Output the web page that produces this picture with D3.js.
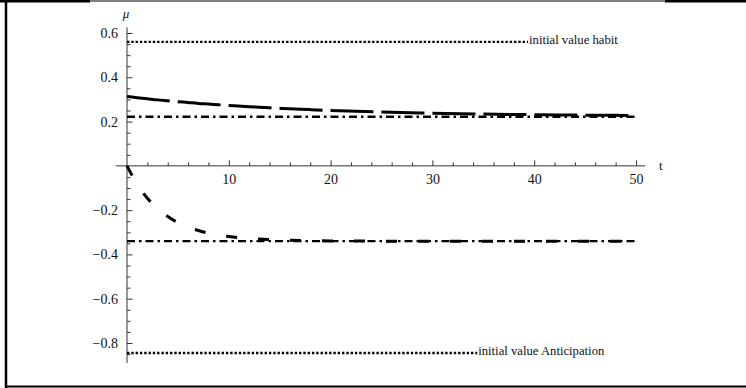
<!DOCTYPE html>
<html lang="en">
<head>
  <meta charset="UTF-8">
  <title>mu over t</title>
  <style>
    body { margin: 0; background: #fff; }
    text { font-family: "Liberation Serif", "DejaVu Serif", serif; fill: #111; }
  </style>
</head>
<body>
  <svg id="chart" width="746" height="388"></svg>

  <script src="https://d3js.org/d3.v7.min.js"></script>
  <script>
    // sample times and values
    const tValues = [0, 1, 2, 3, 4, 5, 6, 7, 8, 9, 10, 12, 14, 16, 18, 20, 25, 30, 35, 40, 45, 50];
    const habitPath = [0.313, 0.308, 0.303, 0.298, 0.294, 0.290, 0.286, 0.282, 0.279, 0.276, 0.273,
                       0.267, 0.262, 0.258, 0.254, 0.250, 0.243, 0.238, 0.234, 0.231, 0.229, 0.227];
    const anticipationPath = [0, -0.083, -0.146, -0.193, -0.229, -0.256, -0.277, -0.292, -0.304, -0.313, -0.319,
                              -0.328, -0.333, -0.336, -0.338, -0.339, -0.340, -0.340, -0.340, -0.340, -0.340, -0.340];

    const steadyLevels = [0.222, -0.34];          // dash-dot lines
    const initialLevels = [0.56, -0.845];         // dotted lines
    const initialEndT = [39.4, 34.4];
    const initialLabels = ["initial value habit", "initial value Anticipation"];

    const xMajor = [10, 20, 30, 40, 50];
    const yMajor = [0.6, 0.4, 0.2, -0.2, -0.4, -0.6, -0.8];

    const svg = d3.select("#chart");

    const x = d3.scaleLinear().domain([0, 50]).range([127, 636]);
    const y = d3.scaleLinear().domain([0.6, -0.8]).range([33, 343]);

    // frame
    svg.append("line").attr("x1", 0).attr("x2", 746).attr("y1", 1).attr("y2", 1)
      .attr("stroke", "#000").attr("stroke-width", 1);
    svg.append("line").attr("x1", 0).attr("x2", 90).attr("y1", 1).attr("y2", 1)
      .attr("stroke", "#000").attr("stroke-width", 3);
    svg.append("line").attr("x1", 665).attr("x2", 746).attr("y1", 1).attr("y2", 1)
      .attr("stroke", "#000").attr("stroke-width", 3);
    svg.append("line").attr("x1", 6).attr("x2", 6).attr("y1", 0).attr("y2", 388)
      .attr("stroke", "#000").attr("stroke-width", 2.5);
    svg.append("line").attr("x1", 5).attr("x2", 746).attr("y1", 386.5).attr("y2", 386.5)
      .attr("stroke", "#000").attr("stroke-width", 2);

    // axes
    const xMinor = d3.range(2, 51, 2).filter(d => d % 10 !== 0);
    const yMinor = d3.range(-0.85, 0.601, 0.05).map(d => +d.toFixed(2))
      .filter(d => Math.abs(Math.round(d * 10) - d * 10) > 0.01 || Math.round(d * 10) % 2 !== 0);

    const gx = svg.append("g").attr("transform", `translate(0,${y(0)})`);
    gx.call(d3.axisBottom(x).tickValues(xMajor).tickSize(-5.5).tickPadding(8).tickFormat(d3.format("d")));
    gx.append("g").call(d3.axisBottom(x).tickValues(xMinor).tickSize(-3.5).tickFormat(""));

    const gy = svg.append("g").attr("transform", `translate(${x(0)},0)`);
    gy.call(d3.axisLeft(y).tickValues(yMajor).tickSize(-5.5).tickPadding(9).tickFormat(d3.format(".1f")));
    gy.append("g").call(d3.axisLeft(y).tickValues(yMinor).tickSize(-3.5).tickFormat(""));

    [gx, gy].forEach(g => g.attr("font-family", "Liberation Serif").attr("font-size", 14));

    svg.selectAll(".domain").remove();
    svg.selectAll(".tick line").attr("stroke", "#333");
    svg.selectAll(".tick text").attr("fill", "#111");

    svg.append("line").attr("x1", x(-1.1)).attr("x2", x(50.9)).attr("y1", y(0)).attr("y2", y(0))
      .attr("stroke", "#333").attr("stroke-width", 1);
    svg.append("line").attr("x1", x(0)).attr("x2", x(0)).attr("y1", y(0.625)).attr("y2", y(-0.89))
      .attr("stroke", "#333").attr("stroke-width", 1);

    svg.append("text").attr("x", x(0) - 1).attr("y", 18).attr("text-anchor", "middle")
      .attr("font-size", 13).style("font-style", "italic").text("μ");
    svg.append("text").attr("x", 659).attr("y", y(0) + 4).attr("font-size", 13).text("t");

    // dotted initial values with labels
    initialLevels.forEach((v, i) => {
      svg.append("line")
        .attr("x1", x(0)).attr("x2", x(initialEndT[i]))
        .attr("y1", y(v)).attr("y2", y(v))
        .attr("stroke", "#000").attr("stroke-width", 2.4)
        .attr("stroke-dasharray", "2.4,1.9");
      svg.append("text")
        .attr("x", x(initialEndT[i]) + 1).attr("y", y(v) + 2.5)
        .attr("font-size", 12.7).text(initialLabels[i]);
    });

    // dash-dot steady states
    steadyLevels.forEach(v => {
      svg.append("line")
        .attr("x1", x(0)).attr("x2", x(50))
        .attr("y1", y(v)).attr("y2", y(v))
        .attr("stroke", "#000").attr("stroke-width", 2.4)
        .attr("stroke-dasharray", "8,4,2.5,4");
    });

    const line = d3.line().x((d, i) => x(tValues[i])).y(d => y(d)).curve(d3.curveMonotoneX);

    svg.append("path").datum(habitPath)
      .attr("d", line).attr("fill", "none")
      .attr("stroke", "#000").attr("stroke-width", 3)
      .attr("stroke-dasharray", "43,8");

    svg.append("path").datum(anticipationPath)
      .attr("d", line).attr("fill", "none")
      .attr("stroke", "#000").attr("stroke-width", 3)
      .attr("stroke-dasharray", "11,21");
  </script>
</body>
</html>
